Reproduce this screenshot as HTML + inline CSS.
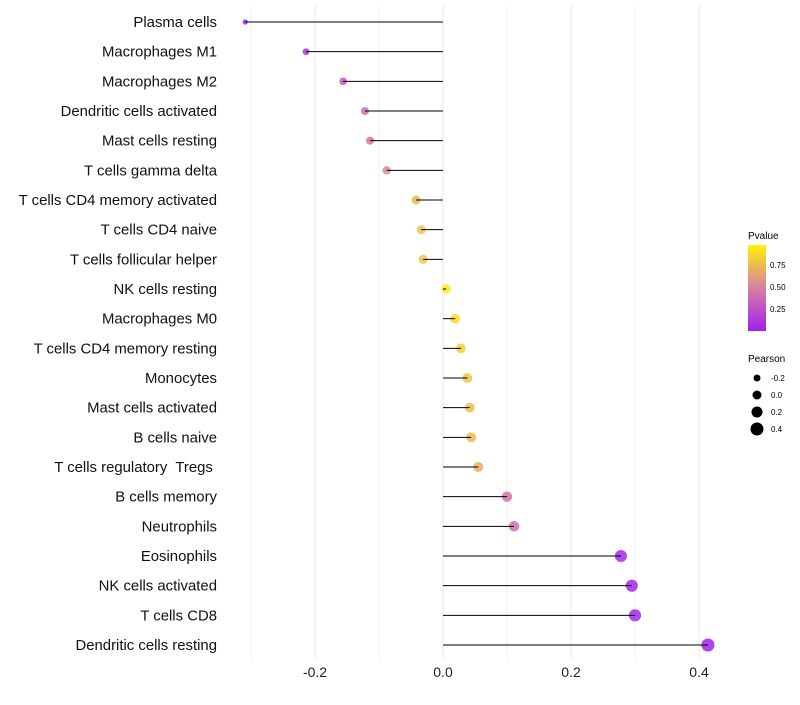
<!DOCTYPE html>
<html><head><meta charset="utf-8"><style>
body{margin:0;background:#fff;font-family:"Liberation Sans",sans-serif}
text{white-space:pre}
</style></head><body>
<svg id="chart" width="800" height="700" xmlns="http://www.w3.org/2000/svg" font-family="Liberation Sans, sans-serif">
<defs><linearGradient id="pg" x1="0" y1="1" x2="0" y2="0">
<stop offset="0" stop-color="#a21ff0"/><stop offset="0.5" stop-color="#d680a0"/><stop offset="1" stop-color="#fff10a"/></linearGradient></defs>
<g id="grid"></g><g id="dots"></g><g id="marks"></g><g id="labels"></g>
<g>
<text x="748" y="239" font-size="10">Pvalue</text>
<rect x="748" y="245" width="18" height="86" fill="url(#pg)"/>
<text x="770" y="268" font-size="8">0.75</text>
<text x="770" y="290" font-size="8">0.50</text>
<text x="770" y="312" font-size="8">0.25</text>
</g>
<g>
<text x="748" y="362" font-size="10">Pearson</text>
<circle cx="757" cy="378" r="3.5"/><text x="771" y="381" font-size="8">-0.2</text>
<circle cx="757" cy="395" r="4.5"/><text x="771" y="398" font-size="8">0.0</text>
<circle cx="757" cy="412" r="5.5"/><text x="771" y="415" font-size="8">0.2</text>
<circle cx="757" cy="429" r="6.5"/><text x="771" y="432" font-size="8">0.4</text>
</g>
</svg>
<script>
const cells=["Plasma cells","Macrophages M1","Macrophages M2","Dendritic cells activated","Mast cells resting","T cells gamma delta","T cells CD4 memory activated","T cells CD4 naive","T cells follicular helper","NK cells resting","Macrophages M0","T cells CD4 memory resting","Monocytes","Mast cells activated","B cells naive","T cells regulatory  Tregs ","B cells memory","Neutrophils","Eosinophils","NK cells activated","T cells CD8","Dendritic cells resting"];
const pearson=[-0.309,-0.214,-0.156,-0.122,-0.114,-0.088,-0.042,-0.034,-0.031,0.005,0.019,0.028,0.038,0.042,0.044,0.055,0.100,0.111,0.278,0.295,0.300,0.414];
const pvalue=[0.0,0.1,0.3,0.4,0.45,0.55,0.75,0.8,0.8,0.98,0.9,0.85,0.8,0.78,0.76,0.7,0.45,0.4,0.05,0.04,0.03,0.01];
const xticks=[-0.2,0.0,0.2,0.4];
const xminor=[-0.3,-0.1,0.1,0.3];
const NS="http://www.w3.org/2000/svg";
const xs=v=>443+v*640;
const ys=i=>22+i*(623/21);
const rs=v=>Math.sqrt(Math.max(22.25+50*v,2));
function col(p){const s=[[162,31,240],[214,128,160],[255,241,10]];let t=p*2,a=s[0],b=s[1];if(p>0.5){t=(p-0.5)*2;a=s[1];b=s[2];}
return `rgb(${a.map((c,k)=>Math.round(c+(b[k]-c)*t)).join(',')})`;}
function mk(tag,at,parent){const e=document.createElementNS(NS,tag);for(const k in at)e.setAttribute(k,at[k]);document.getElementById(parent).appendChild(e);return e;}
xminor.forEach(v=>{const l=mk('line',{x1:xs(v),x2:xs(v),y1:5,y2:660,stroke:'#f2f2f2','stroke-width':1},'grid');

});
xticks.forEach(v=>{const l=mk('line',{x1:xs(v),x2:xs(v),y1:5,y2:660,stroke:'#ebebeb','stroke-width':1},'grid');


const t=mk('text',{x:xs(v),y:677,'font-size':14,'text-anchor':'middle',fill:'#222'},'labels');t.textContent=v.toFixed(1);

});
cells.forEach((c,i)=>{const y=ys(i);
const d=mk('circle',{cx:xs(pearson[i]),cy:y,r:rs(pearson[i]),fill:col(pvalue[i]),'fill-opacity':0.85},'dots');


const l=mk('line',{x1:xs(0),x2:xs(pearson[i]),y1:y,y2:y,stroke:'#000','stroke-width':1},'marks');


const t=mk('text',{x:217,y:y+5,'font-size':14.9,'text-anchor':'end',fill:'#111'},'labels');t.textContent=c;

});
</script>
</body></html>
